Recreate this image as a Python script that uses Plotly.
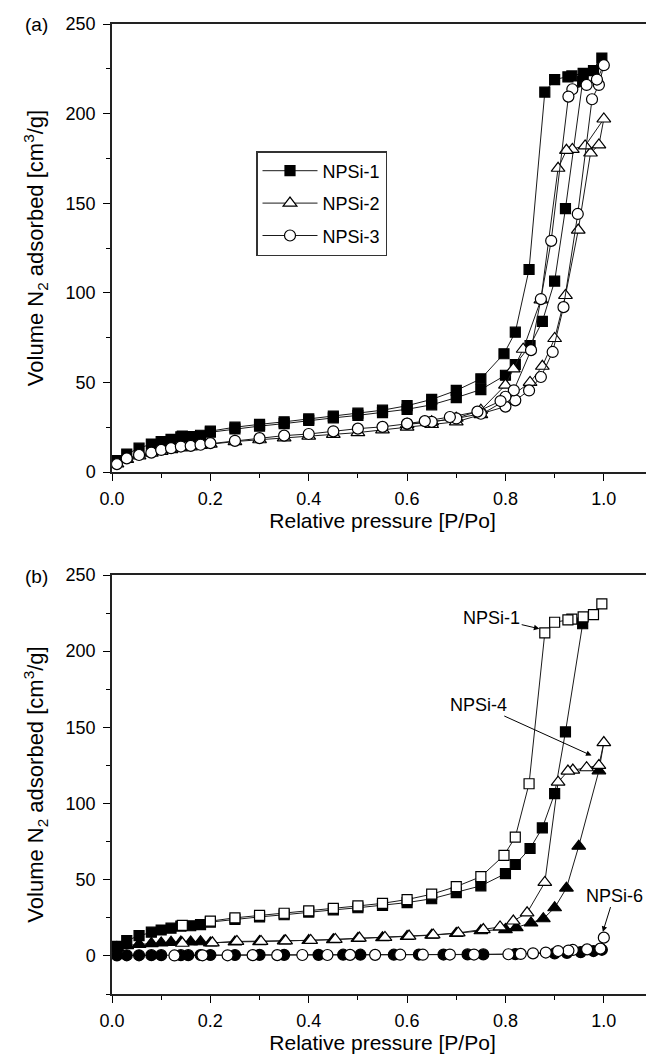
import plotly.graph_objects as go

# ---------------- data ----------------
# NPSi-1 (used in both panels)
npsi1_ads_x = [0.01, 0.03, 0.055, 0.08, 0.10, 0.12, 0.14, 0.16, 0.18, 0.20, 0.25, 0.30, 0.35, 0.40, 0.45,
               0.50, 0.55, 0.60, 0.65, 0.70, 0.75, 0.80, 0.82, 0.85, 0.875, 0.90, 0.922, 0.957]
npsi1_ads_y = [6.3, 10, 13.3, 15.6, 17, 18.2, 19.6, 19.8, 20.5, 22.2, 24, 25.6, 27, 28.8, 30.2,
               31.6, 33.1, 35, 37.5, 41.5, 46, 54, 60, 70.5, 84, 106.5, 147, 218]
npsi1_des_x = [0.996, 0.979, 0.958, 0.935, 0.927, 0.90, 0.88, 0.848, 0.82, 0.797, 0.75, 0.70, 0.65, 0.60,
               0.55, 0.50, 0.45, 0.40, 0.35, 0.30, 0.25, 0.20, 0.143]
npsi1_des_y = [231, 224, 222.5, 221, 220.5, 219, 212, 113, 78, 66, 52, 45.5, 40.5, 37,
               34.5, 32.8, 31.2, 29.6, 28, 26.6, 25, 22.8, 20]

# NPSi-2 (panel a)
npsi2_ads_x = [0.01, 0.03, 0.055, 0.08, 0.10, 0.12, 0.14, 0.16, 0.18, 0.20, 0.25, 0.30, 0.35, 0.40, 0.45,
               0.50, 0.55, 0.60, 0.65, 0.70, 0.75, 0.80, 0.85, 0.875, 0.90, 0.922, 0.948, 0.973, 0.99, 1.0]
npsi2_ads_y = [4.5, 7, 9, 10.5, 11.5, 12.5, 13.5, 14, 14.8, 15.5, 17, 18, 19, 20, 21,
               22, 23.5, 25, 26.5, 28, 32, 40, 50, 59, 74.5, 98.5, 135, 178, 182.5, 197]
npsi2_des_x = [0.962, 0.936, 0.924, 0.907, 0.872, 0.836, 0.816, 0.80, 0.75, 0.70, 0.65, 0.60]
npsi2_des_y = [182, 180, 179.5, 169.5, 96, 68.5, 57.5, 48.5, 34.5, 30, 28, 26.5]

# NPSi-3 (panel a)
npsi3_ads_x = [0.01, 0.03, 0.055, 0.08, 0.10, 0.12, 0.14, 0.16, 0.18, 0.20, 0.25, 0.30, 0.35, 0.40, 0.45,
               0.50, 0.55, 0.60, 0.65, 0.70, 0.75, 0.80, 0.82, 0.848, 0.872, 0.896, 0.918, 0.947, 0.976, 0.99, 1.0]
npsi3_ads_y = [4.4, 7.6, 9.5, 10.8, 12.3, 13.3, 14.2, 14.6, 15.2, 16.1, 17.4, 18.9, 20.3, 21.2, 22.7,
               24.2, 25.2, 26.9, 28, 29.9, 32.5, 36.5, 40, 45.5, 53, 67, 92, 144, 208, 216, 227]
npsi3_des_x = [0.986, 0.965, 0.936, 0.928, 0.893, 0.872, 0.852, 0.817, 0.80, 0.79, 0.743, 0.687, 0.636, 0.60]
npsi3_des_y = [219, 216, 213.6, 209.5, 129, 96.5, 68, 45.6, 42, 39.6, 33.7, 30.7, 28.4, 27]

# NPSi-4 (panel b)
npsi4_ads_x = [0.01, 0.03, 0.055, 0.08, 0.10, 0.12, 0.14, 0.16, 0.18, 0.20, 0.25, 0.30, 0.35, 0.40, 0.45,
               0.50, 0.55, 0.60, 0.65, 0.70, 0.75, 0.80, 0.822, 0.852, 0.877, 0.90, 0.924, 0.949, 0.99]
npsi4_ads_y = [5.5, 6.8, 7.6, 8.1, 8.5, 8.9, 9.1, 9.2, 9.3, 8.5, 9.2, 9.4, 9.8, 10.1, 10.7,
               11.5, 12, 12.8, 13.6, 14.8, 16.5, 17.3, 18.6, 21.6, 24.4, 31.6, 44.5, 72, 121.5]
npsi4_des_x = [1.0, 0.99, 0.965, 0.937, 0.927, 0.907, 0.88, 0.844, 0.816, 0.789, 0.755, 0.704, 0.653, 0.604,
               0.555, 0.503, 0.454, 0.404, 0.353, 0.303, 0.254, 0.204, 0.143]
npsi4_des_y = [140, 125, 123.5, 122, 121.3, 114, 48.2, 28.3, 22.9, 19, 17.3, 15.1, 13.8, 13,
               12.1, 11.7, 10.8, 10.2, 9.9, 9.5, 9.5, 8.6, 8.3]

# NPSi-6 (panel b)
npsi6_ads_x = [0.01, 0.03, 0.055, 0.08, 0.10, 0.14, 0.155, 0.18, 0.20, 0.25, 0.30, 0.35, 0.42, 0.47,
               0.505, 0.573, 0.624, 0.674, 0.723, 0.755, 0.82, 0.90, 0.925, 0.953, 0.979, 0.996]
npsi6_ads_y = [0.3, 0.4, 0.4, 0.5, 0.5, 0.5, 0.5, 0.6, 0.6, 0.6, 0.7, 0.7, 0.7, 0.8,
               0.8, 0.8, 0.9, 0.9, 1.0, 1.0, 1.2, 1.6, 2.0, 2.5, 3.2, 4.0]
npsi6_des_x = [1.0, 0.993, 0.966, 0.937, 0.928, 0.907, 0.882, 0.856, 0.831, 0.806, 0.736, 0.687, 0.632,
               0.586, 0.535, 0.484, 0.438, 0.387, 0.336, 0.286, 0.235, 0.184, 0.127]
npsi6_des_y = [12, 4.8, 4.3, 3.9, 3.5, 3.2, 2.2, 1.7, 1.3, 1.1, 0.9, 0.9, 0.8,
               0.8, 0.7, 0.7, 0.6, 0.6, 0.5, 0.5, 0.4, 0.4, 0.3]

x_ticks = [0.0, 0.2, 0.4, 0.6, 0.8, 1.0]
x_tick_text = ["0.0", "0.2", "0.4", "0.6", "0.8", "1.0"]
y_ticks = [0, 50, 100, 150, 200, 250]

# ---------------- styling ----------------
FONT = "Liberation Sans, Arial, sans-serif"
LINE_C = "#1a1a1a"
SIZES = {"square": 10, "triangle-up": 12, "circle": 11}

W, H = 654, 1061
ML, MR, MT, MB = 104, 9, 16, 75
PH = H - MT - MB
def py(pix):  # pixel y -> paper y
    return (H - MB - pix) / PH
def px(pix):
    return (pix - ML) / (W - ML - MR)

fig = go.Figure()

# ---------- panel (a) ----------
series_a = [
    ("NPSi-1", npsi1_ads_x + npsi1_des_x, npsi1_ads_y + npsi1_des_y, "square", "black"),
    ("NPSi-2", npsi2_ads_x + npsi2_des_x, npsi2_ads_y + npsi2_des_y, "triangle-up", "white"),
    ("NPSi-3", npsi3_ads_x + npsi3_des_x, npsi3_ads_y + npsi3_des_y, "circle", "white"),
]
for name, xs, ys, sym, fill in series_a:
    fig.add_trace(go.Scatter(
        x=xs, y=ys, mode="lines+markers", name=name, xaxis="x", yaxis="y",
        legendgroup=name,
        line=dict(color=LINE_C, width=1),
        marker=dict(symbol=sym, size=SIZES[sym], color=fill, line=dict(color="black", width=1.2)),
    ))

# ---------- panel (b) ----------
loops_b = [
    (npsi1_ads_x + npsi1_des_x, npsi1_ads_y + npsi1_des_y),
    (npsi4_ads_x + npsi4_des_x, npsi4_ads_y + npsi4_des_y),
    (npsi6_ads_x + npsi6_des_x, npsi6_ads_y + npsi6_des_y),
]
for xs, ys in loops_b:
    fig.add_trace(go.Scatter(x=xs, y=ys, mode="lines", xaxis="x2", yaxis="y2",
                             showlegend=False, line=dict(color=LINE_C, width=1)))

marks_b = [
    (npsi1_ads_x, npsi1_ads_y, "square", "black"),
    (npsi1_des_x, npsi1_des_y, "square", "white"),
    (npsi4_ads_x, npsi4_ads_y, "triangle-up", "black"),
    (npsi4_des_x, npsi4_des_y, "triangle-up", "white"),
    (npsi6_ads_x, npsi6_ads_y, "circle", "black"),
    (npsi6_des_x, npsi6_des_y, "circle", "white"),
]
for xs, ys, sym, fill in marks_b:
    fig.add_trace(go.Scatter(x=xs, y=ys, mode="markers", xaxis="x2", yaxis="y2", showlegend=False,
                             marker=dict(symbol=sym, size=SIZES[sym], color=fill,
                                         line=dict(color="black", width=1.2))))

# ---------- axes ----------
ytitle = "Volume N<sub>2</sub> adsorbed [cm<sup>3</sup>/g]"
common_x = dict(range=[0, 1.1], tickvals=x_ticks, ticktext=x_tick_text, ticks="outside", ticklen=7,
                tickwidth=1.3, tickcolor="black", ticklabelstandoff=3,
                minor=dict(dtick=0.1, tick0=0, ticks="outside", ticklen=4, tickcolor="black", tickwidth=1.2),
                showline=True, linecolor="#222", linewidth=1.5, mirror=True, showgrid=False, zeroline=False,
                tickfont=dict(family=FONT, size=18, color="black"),
                title=dict(text="Relative pressure [P/Po]", font=dict(family=FONT, size=21, color="black"),
                           standoff=5))
common_y = dict(tickvals=y_ticks, ticks="outside", ticklen=7, tickwidth=1.3, tickcolor="black",
                ticklabelstandoff=4,
                minor=dict(dtick=25, tick0=0, ticks="outside", ticklen=4, tickcolor="black", tickwidth=1.2),
                showline=True, linecolor="#222", linewidth=1.5, mirror=True, showgrid=False, zeroline=False,
                tickfont=dict(family=FONT, size=18, color="black"),
                title=dict(text=ytitle, font=dict(family=FONT, size=22, color="black"), standoff=16))

fig.update_layout(
    width=W, height=H,
    margin=dict(l=ML, r=MR, t=MT, b=MB, autoexpand=False),
    paper_bgcolor="white", plot_bgcolor="white",
    font=dict(family=FONT, color="black"),
    xaxis=dict(common_x, domain=[0, 1], anchor="y"),
    yaxis=dict(common_y, domain=[py(464), 1], anchor="x", range=[0, 250]),
    xaxis2=dict(common_x, domain=[0, 1], anchor="y2"),
    yaxis2=dict(common_y, domain=[0, py(567)], anchor="x2", range=[-25, 250]),
    showlegend=True,
    legend=dict(x=px(248), y=py(143), xanchor="left", yanchor="top",
                bordercolor="#333", borderwidth=1.5, bgcolor="white",
                font=dict(family=FONT, size=18, color="black"),
                tracegroupgap=6, itemwidth=55),
)

ann = [
    dict(text="(a)", x=px(28), y=py(17), xref="paper", yref="paper", showarrow=False,
         xanchor="center", yanchor="middle", font=dict(family=FONT, size=19, color="black")),
    dict(text="(b)", x=px(28), y=py(568), xref="paper", yref="paper", showarrow=False,
         xanchor="center", yanchor="middle", font=dict(family=FONT, size=19, color="black")),
    # labels with arrows in panel (b)
    dict(text="NPSi-1", x=0.869, y=214.7, ax=0.772, ay=222, xref="x2", yref="y2", axref="x2", ayref="y2",
         showarrow=True, arrowhead=2, arrowsize=1.1, arrowwidth=1, arrowcolor="black", standoff=0,
         font=dict(family=FONT, size=18, color="black")),
    dict(text="NPSi-4", x=0.975, y=131.5, ax=0.746, ay=165, xref="x2", yref="y2", axref="x2", ayref="y2",
         showarrow=True, arrowhead=2, arrowsize=1.1, arrowwidth=1, arrowcolor="black", standoff=0,
         font=dict(family=FONT, size=18, color="black")),
    dict(text="NPSi-6", x=0.998, y=15.8, ax=1.021, ay=39.6, xref="x2", yref="y2", axref="x2", ayref="y2",
         showarrow=True, arrowhead=2, arrowsize=1.1, arrowwidth=1, arrowcolor="black", standoff=0,
         font=dict(family=FONT, size=18, color="black")),
]
fig.update_layout(annotations=ann)

fig.write_html("out.html")
